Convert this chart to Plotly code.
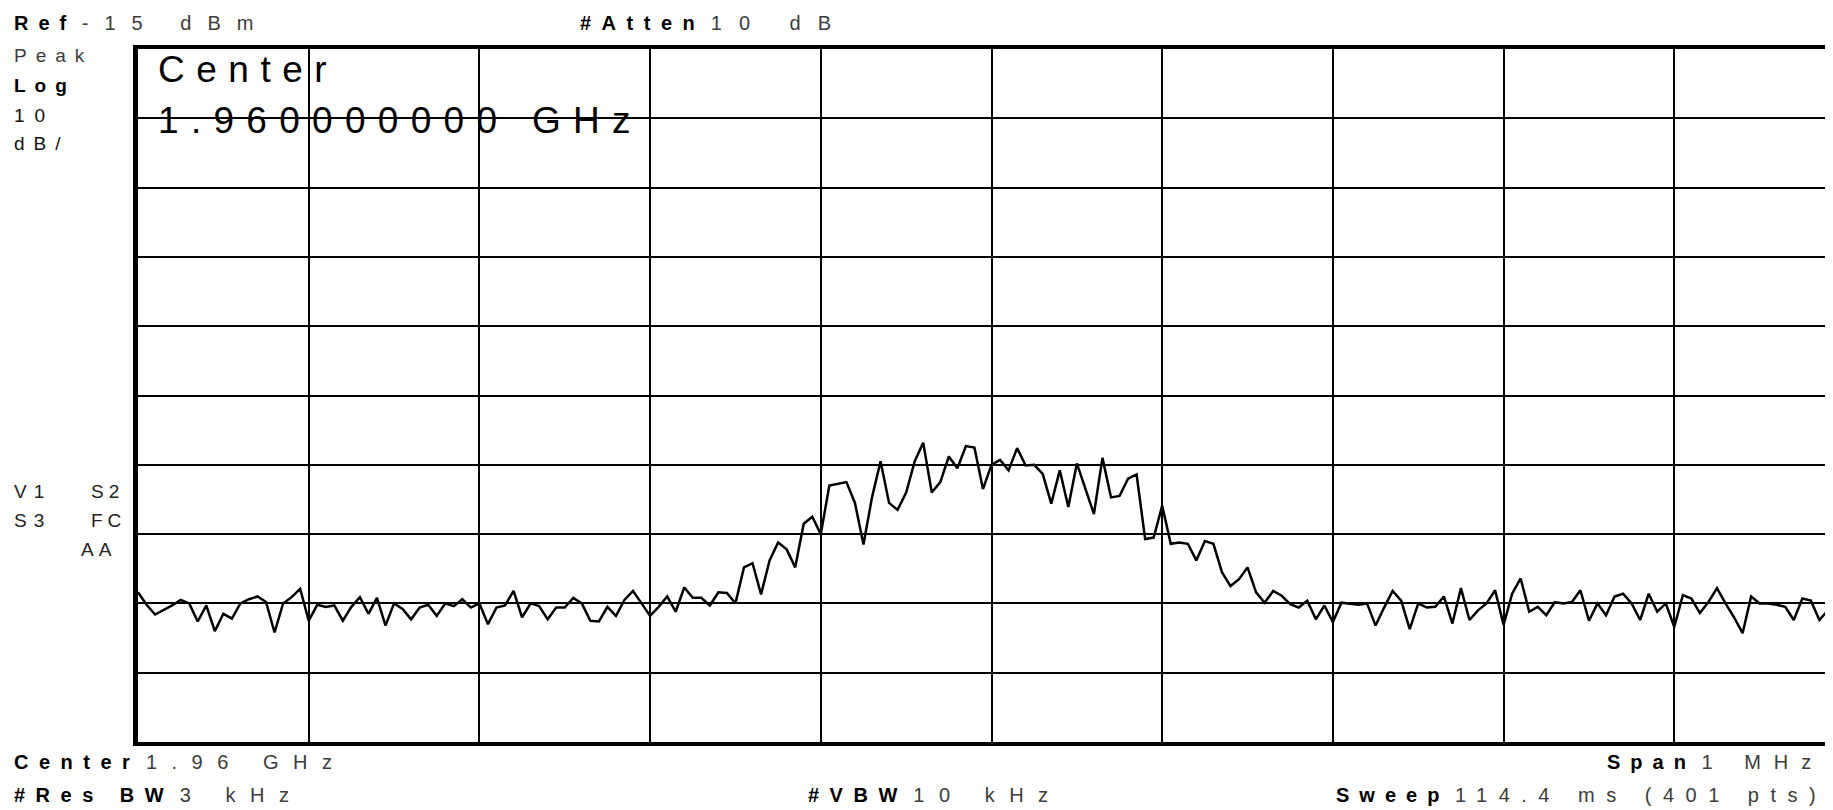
import plotly.graph_objects as go

# spectrum analyzer screen: 1.96 GHz centre, 1 MHz span, 10 dB/div, ref -15 dBm
ref_dbm = -15
db_per_div = 10
span_khz = 1000
step_khz = 5  # trace read every 5 kHz off the printout

# trace, dBm, from left edge (0 kHz) to right edge (1000 kHz)
trace_dbm = [
    -93.4, -95.2, -96.6, -96.0, -95.3, -94.5, -95.0, -97.6, -95.3, -99.0,
    -96.5, -97.2, -95.0, -94.4, -94.0, -94.8, -99.2, -95.0, -94.1, -92.9,
    -97.5, -95.2, -95.5, -95.3, -97.5, -95.5, -94.1, -96.5, -94.2, -98.2,
    -95.0, -95.8, -97.3, -95.6, -95.2, -96.8, -95.0, -95.4, -94.4, -95.6,
    -95.0, -98.0, -95.6, -95.3, -93.2, -97.0, -95.0, -95.4, -97.3, -95.6,
    -95.6, -94.2, -95.0, -97.5, -97.6, -95.5, -96.8, -94.5, -93.2, -95.0,
    -96.8, -95.5, -94.0, -96.2, -92.7, -94.2, -94.2, -95.3, -93.4, -93.5,
    -95.0, -89.8, -89.2, -93.7, -88.8, -86.2, -87.2, -89.8, -83.5, -82.5,
    -85.0, -78.0, -77.8, -77.5, -80.5, -86.5, -79.7, -74.5, -80.5, -81.5,
    -79.0, -74.5, -71.8, -79.0, -77.5, -73.8, -75.5, -72.3, -72.5, -78.5,
    -75.0, -74.3, -75.8, -72.6, -75.1, -75.0, -76.3, -80.6, -75.8, -81.1,
    -74.8, -78.5, -82.1, -74.0, -79.7, -79.5, -77.0, -76.4, -85.7, -85.5,
    -80.9, -86.4, -86.2, -86.4, -88.8, -86.0, -86.4, -90.5, -92.5, -91.5,
    -89.8, -93.4, -94.9, -93.2, -93.9, -95.1, -95.6, -94.6, -97.3, -95.3,
    -97.7, -94.9, -95.0, -95.2, -95.0, -98.2, -95.6, -93.2, -94.6, -98.7,
    -95.0, -95.6, -95.5, -94.0, -97.9, -92.8, -97.4, -96.0, -95.0, -93.1,
    -98.1, -93.6, -91.4, -96.2, -95.5, -96.7, -94.8, -95.0, -94.8, -93.1,
    -97.5, -95.0, -96.7, -94.0, -93.6, -95.0, -97.4, -93.6, -96.2, -95.0,
    -98.4, -93.8, -94.3, -96.4, -94.8, -92.8, -95.0, -97.0, -99.3, -94.0,
    -95.0, -95.0, -95.2, -95.5, -97.4, -94.3, -94.6, -97.4, -96.0, -95.8,
    -95.5,
]
freq_khz = [i * step_khz for i in range(len(trace_dbm))]

# screen geometry (px); the page body adds an 8 px margin, so shift by it
OFF = 8
W, H = 1833 - OFF, 810 - OFF
L, T, B = 138 - OFF, 49 - OFF, 742 - OFF
PW, PH = W - L, B - T
DIV_PX = 170.7  # one horizontal division
x_max = PW / DIV_PX * 100  # right edge of the screen is cut off

FONT = "Liberation Sans"
GREY = "#3c3c3c"

fig = go.Figure(
    go.Scatter(
        x=freq_khz, y=trace_dbm, mode="lines",
        line=dict(color="black", width=2.5),
        hoverinfo="skip", showlegend=False,
    )
)

def sp(txt, ls, bold=False, color="#000"):
    s = f"<span style='letter-spacing:{ls}px;color:{color}'>{txt}</span>"
    return f"<b>{s}</b>" if bold else s

def label(px, py, text, size=20, anchor="left"):
    # px, py are window pixels
    fig.add_annotation(
        x=(px - OFF - L) / PW, y=(B - (py - OFF)) / PH, xref="paper", yref="paper",
        text=text, showarrow=False, xanchor=anchor, yanchor="middle",
        font=dict(family=FONT, size=size, color="#000"),
    )

# header and left column
label(12, 23, sp("Ref", 10, True) + " " + sp("-15 dBm", 16, color=GREY))
label(578, 23, sp("#Atten", 10.5, True) + " " + sp("10 dB", 17, color=GREY))
label(12, 56, sp("Peak", 9, color=GREY), 19)
label(12, 85, sp("Log", 9, True), 19)
label(12, 115, sp("10", 10, color="#111"), 19)
label(12, 143, sp("dB/", 9, color="#111"), 19)
label(12, 491, sp("V1", 7, color="#222"), 19)
label(89, 491, sp("S2", 5, color="#222"), 19)
label(12, 520, sp("S3", 7, color="#222"), 19)
label(89, 520, sp("FC", 5, color="#222"), 19)
label(79, 549, sp("AA", 5, color="#222"), 19)

# big marker readout inside the screen
label(156, 70, sp("Center", 11.5), 37)
label(156, 120, sp("1.960000000 GHz", 12.3), 37)

# footer
label(12, 762, sp("Center", 10.5, True) + " " + sp("1.96 GHz", 14.5, color=GREY))
label(12, 795, sp("#Res BW", 10.5, True) + " " + sp("3 kHz", 14.5, color=GREY))
label(806, 795, sp("#VBW", 10.5, True) + " " + sp("10 kHz", 14.5, color=GREY))
label(1826, 762, sp("Span", 10, True) + " " + sp("1 MHz", 13, color=GREY), anchor="right")
label(1829, 795, sp("Sweep", 10, True) + " " + sp("114.4 ms (401 pts)", 11.5, color=GREY),
      anchor="right")

fig.update_layout(
    width=W, height=H, template=None,
    paper_bgcolor="white", plot_bgcolor="white",
    margin=dict(l=L, r=0, t=T, b=H - B, pad=0),
    showlegend=False,
)
fig.update_xaxes(
    range=[0, x_max], tick0=0, dtick=100, showticklabels=False, ticks="",
    showgrid=True, gridcolor="black", gridwidth=2, zeroline=False,
    showline=True, linecolor="black", linewidth=4, mirror=True,
)
fig.update_yaxes(
    range=[ref_dbm - 10 * db_per_div, ref_dbm], tick0=ref_dbm, dtick=db_per_div,
    showticklabels=False, ticks="",
    showgrid=True, gridcolor="black", gridwidth=2, zeroline=False,
    showline=True, linecolor="black", linewidth=5, mirror=False,
)

fig.write_html("out.html")
